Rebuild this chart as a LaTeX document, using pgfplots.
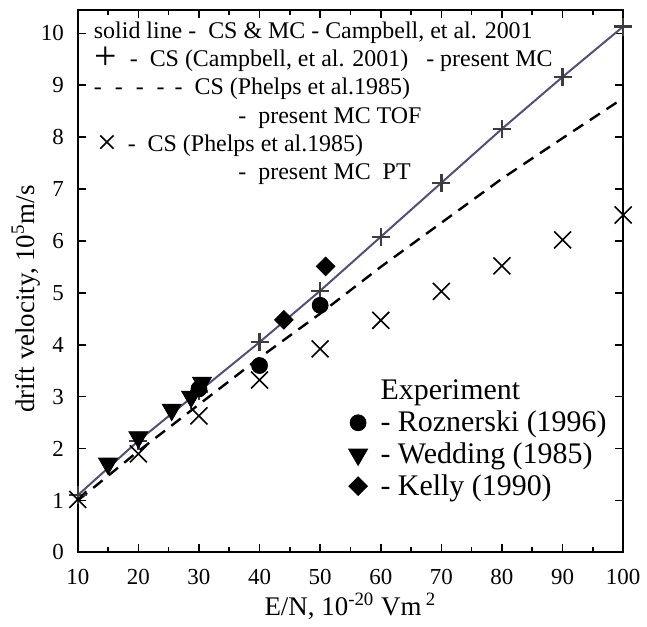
\documentclass[border=0pt]{standalone}
\usepackage{fontspec}
\setmainfont{Liberation Serif}
\usepackage{pgfplots}
\pgfplotsset{compat=1.18}

\definecolor{mcline}{RGB}{80,80,120}
\definecolor{mcplus}{RGB}{60,60,60}

\begin{document}
\begin{tikzpicture}
\begin{axis}[
    scale only axis,
    width=273.5pt, height=272pt,
    xmin=10, xmax=100,
    ymin=0, ymax=10.45,
    xtick={10,20,...,100},
    ytick={0,1,...,10},
    minor x tick num=1,
    tick align=inside,
    major tick length=4pt,
    minor tick length=2.5pt,
    axis line style={line width=1pt},
    every tick/.style={line width=0.8pt, black},
    /pgf/number format/assume math mode=true,
    ticklabel style={font=\fontsize{11.5}{13}\selectfont},
    xticklabel style={yshift=-5pt},
    yticklabel style={xshift=-3.5pt},
    xlabel={E/N, 10\textsuperscript{-20} Vm\,\textsuperscript{2}},
    ylabel={drift velocity, 10\textsuperscript{5}m/s},
    label style={font=\fontsize{13.5}{15}\selectfont},
    xlabel style={yshift=3pt},
    ylabel style={yshift=-6.5pt, xshift=-9pt},
    legend style={draw=none, fill=none, at={(axis cs:52.4,3.48)}, anchor=north west,
        font=\fontsize{15}{16}\selectfont, row sep=0pt, column sep=4.5pt},
    legend cell align=left,
    clip=false,
]

% solid line: CS & MC, Campbell et al. 2001
\addplot[mcline, line width=1pt, forget plot] coordinates {
    (10,1.10) (20,2.15) (30,3.10) (40,4.05) (50,5.04) (60,6.08)
    (70,7.12) (80,8.16) (90,9.16) (100,10.13)
};
% dashed line: present MC TOF with Phelps CS
\addplot[black, line width=1.2pt, dash pattern=on 6pt off 4pt, forget plot] coordinates {
    (10,1.00) (20,1.95) (30,2.85) (40,3.75) (50,4.60) (60,5.50)
    (70,6.35) (80,7.20) (90,7.98) (100,8.75)
};
% + : present MC with Campbell CS
\addplot[only marks, mark=+, mark size=4.5pt, mark options={mcplus, line width=1.2pt}, forget plot] coordinates {
    (10,1.10) (20,2.15) (30,3.10) (40,4.05) (50,5.04) (60,6.08)
    (70,7.12) (80,8.16) (90,9.16) (100,10.13)
};
% x : present MC PT with Phelps CS
\addplot[only marks, mark=x, mark size=6pt, mark options={black, line width=0.8pt}, forget plot] coordinates {
    (10,1.02) (20,1.90) (30,2.63) (40,3.32) (50,3.92) (60,4.47)
    (70,5.03) (80,5.52) (90,6.02) (100,6.50)
};

\addlegendimage{empty legend}
\addlegendentry{Experiment}
% Roznerski (1996)
\addplot[only marks, mark=*, mark size=4pt, mark options={black, fill=black}] coordinates {
    (30,3.15) (40,3.60) (50,4.76)
};
\addlegendentry{- Roznerski (1996)}
% Wedding (1985)
\addplot[only marks, mark=triangle*, mark size=5.5pt, mark options={black, fill=black, rotate=180}] coordinates {
    (15,1.71) (20,2.22) (25.5,2.75) (28.7,3.00) (30.5,3.27)
};
\addlegendentry{- Wedding (1985)}
% Kelly (1990)
\addplot[only marks, mark=square*, mark size=3.3pt, mark options={black, fill=black, rotate=45}] coordinates {
    (44,4.48) (50.9,5.51)
};
\addlegendentry{- Kelly (1990)}

\node[anchor=north west, align=left, inner sep=0pt, font=\fontsize{12}{14.2}\selectfont]
    at (axis cs:12.6,10.235) {%
    solid line - \ CS \& MC - Campbell, et al. 2001\\
    \makebox[18pt][l]{\hspace{0.5pt}\smash{\raisebox{-1.5pt}{\fontsize{20}{14}\selectfont +}}}- \ CS (Campbell, et al. 2001) \ \ - present MC\\
    \makebox[40.5pt][l]{-\hspace{6.5pt}-\hspace{6.5pt}-\hspace{6.5pt}-}- \ CS (Phelps et al.1985)\\
    \hspace*{72.5pt}- \ present MC TOF\\
    \makebox[17pt][l]{\hspace{1.5pt}\smash{\raisebox{-1.5pt}{\fontsize{18}{14}\selectfont ×}}}- \ CS (Phelps et al.1985)\\
    \hspace*{72.5pt}- \ present MC \ PT};
\end{axis}
\path ([shift={(-39pt,-35pt)}]current axis.south west) rectangle ([shift={(11pt,5pt)}]current axis.north east);
\end{tikzpicture}
\end{document}
